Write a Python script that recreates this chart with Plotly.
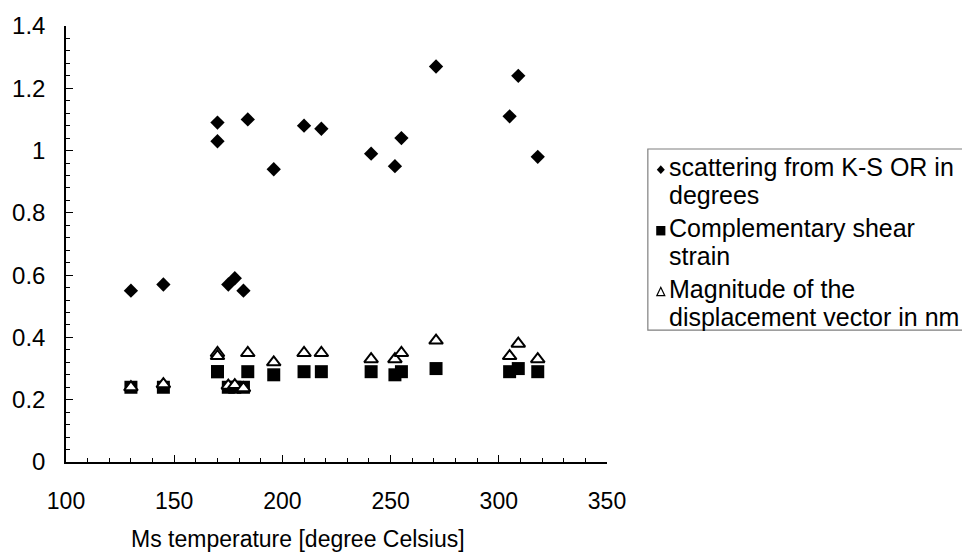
import plotly.graph_objects as go

# Ms temperature of each sample [degree Celsius]
ms_temp = [130, 145, 170, 170, 175, 178, 182, 184, 196, 210, 218, 241, 252, 255, 271, 305, 309, 318]
# scattering from K-S OR in degrees
scattering = [0.55, 0.57, 1.09, 1.03, 0.57, 0.59, 0.55, 1.10, 0.94, 1.08, 1.07, 0.99, 0.95, 1.04, 1.27, 1.11, 1.24, 0.98]
# complementary shear strain
shear = [0.24, 0.24, 0.29, 0.29, 0.24, 0.24, 0.24, 0.29, 0.28, 0.29, 0.29, 0.29, 0.28, 0.29, 0.30, 0.29, 0.30, 0.29]
# magnitude of the displacement vector in nm
displacement = [0.24, 0.25, 0.35, 0.34, 0.245, 0.247, 0.237, 0.35, 0.32, 0.35, 0.35, 0.33, 0.33, 0.35, 0.39, 0.34, 0.38, 0.33]

series_names = [
    ["scattering from K-S OR in", "degrees"],
    ["Complementary shear", "strain"],
    ["Magnitude of the", "displacement vector in nm"],
]
x_tick_values = [100, 150, 200, 250, 300, 350]
y_tick_values = [0, 0.2, 0.4, 0.6, 0.8, 1.0, 1.2, 1.4]
y_tick_text = ["0", "0.2", "0.4", "0.6", "0.8", "1", "1.2", "1.4"]
x_title = "Ms temperature [degree Celsius]"

FONT = "Liberation Sans, Arial, sans-serif"
W, H = 962, 554
ML, MR, MT, MB = 64, 355, 19, 92
PW, PH = W - ML - MR, H - MT - MB


def px_x(p):
    return (p - ML) / PW


def px_y(p):
    return (H - MB - p) / PH


fig = go.Figure()
fig.add_trace(go.Scatter(
    x=ms_temp, y=scattering, mode="markers", name=" ".join(series_names[0]),
    marker=dict(symbol="diamond", size=11, color="black", line=dict(width=0)),
))
fig.add_trace(go.Scatter(
    x=ms_temp, y=shear, mode="markers", name=" ".join(series_names[1]),
    marker=dict(symbol="square", size=13, color="black", line=dict(width=0)),
))
fig.add_trace(go.Scatter(
    x=ms_temp, y=displacement, mode="markers", name=" ".join(series_names[2]),
    marker=dict(symbol="triangle-up", size=12, color="white", line=dict(width=2, color="black")),
))

axis_common = dict(
    showgrid=False, zeroline=False, showline=True, linecolor="black", linewidth=1.5,
    ticks="inside", tickcolor="black", tickwidth=1.3, ticklen=7,
)
fig.update_xaxes(
    range=[100, 350], tickvals=x_tick_values, ticklabelstandoff=18,
    tickfont=dict(family=FONT, size=23, color="black"),
    minor=dict(dtick=10, tick0=100, ticks="inside", ticklen=4, tickcolor="black", tickwidth=1.2),
    **axis_common,
)
fig.update_yaxes(
    range=[0, 1.4], tickvals=y_tick_values, ticktext=y_tick_text, ticklabelstandoff=14,
    tickfont=dict(family=FONT, size=24, color="black"),
    minor=dict(dtick=0.04, tick0=0, ticks="inside", ticklen=4, tickcolor="black", tickwidth=1.2),
    **axis_common,
)

annotations = [dict(
    text=x_title, xref="paper", yref="paper", x=px_x(297), y=px_y(540),
    xanchor="center", yanchor="middle", showarrow=False,
    font=dict(family=FONT, size=23, color="black"),
)]
shapes = [dict(
    type="rect", xref="paper", yref="paper",
    x0=px_x(648), x1=px_x(975), y0=px_y(328), y1=px_y(144),
    line=dict(color="#7f7f7f", width=1.2), fillcolor="white", layer="below",
)]

# legend entries: symbol + two text lines each
line_centers = [(162, 191), (224, 253), (286, 315)]
for (y1, y2), lines in zip(line_centers, series_names):
    for yy, txt in zip((y1, y2), lines):
        annotations.append(dict(
            text=txt, xref="paper", yref="paper", x=px_x(669), y=px_y(yy),
            xanchor="left", yanchor="middle", showarrow=False,
            borderpad=0, borderwidth=0,
            font=dict(family=FONT, size=25, color="black"),
        ))

cx = px_x(661)
sx = 1 / PW
sy = 1 / PH
# diamond
dy = px_y(165)
shapes.append(dict(
    type="path", xref="paper", yref="paper",
    path=f"M {cx - 4*sx} {dy} L {cx} {dy + 4.5*sy} L {cx + 4*sx} {dy} L {cx} {dy - 4.5*sy} Z",
    fillcolor="black", line=dict(width=0),
))
# square
qy = px_y(227)
shapes.append(dict(
    type="rect", xref="paper", yref="paper",
    x0=cx - 4.6*sx, x1=cx + 4.6*sx, y0=qy - 4.8*sy, y1=qy + 4.8*sy,
    fillcolor="black", line=dict(width=0),
))
# open triangle
ty = px_y(289)
shapes.append(dict(
    type="path", xref="paper", yref="paper",
    path=f"M {cx - 4*sx} {ty - 4*sy} L {cx + 4*sx} {ty - 4*sy} L {cx} {ty + 4.5*sy} Z",
    fillcolor="white", line=dict(color="black", width=1.2),
))

fig.update_layout(
    width=W, height=H, margin=dict(l=ML, r=MR, t=MT, b=MB),
    paper_bgcolor="white", plot_bgcolor="white", showlegend=False,
    font=dict(family=FONT, color="black"),
    annotations=annotations, shapes=shapes,
)

fig.write_html("out.html")
